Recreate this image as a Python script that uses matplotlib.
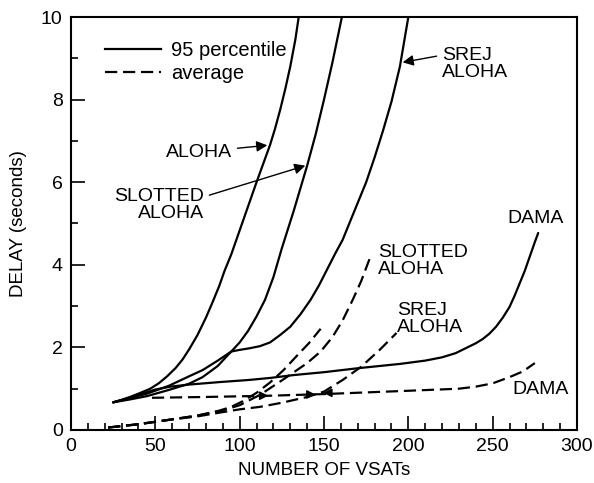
import matplotlib
matplotlib.use("Agg")
import matplotlib.pyplot as plt
from matplotlib.lines import Line2D

plt.rcParams['font.family'] = ['Liberation Sans', 'DejaVu Sans']

# ---- data ----
aloha95_x = [25, 30, 35, 40, 47, 52, 57, 62, 66, 70, 75, 80, 84, 88, 91, 95, 98, 104, 110, 114, 118, 121, 124, 127, 130, 133, 135]
aloha95_y = [0.67, 0.73, 0.8, 0.88, 1.0, 1.13, 1.3, 1.5, 1.7, 1.95, 2.3, 2.72, 3.1, 3.5, 3.85, 4.25, 4.6, 5.3, 6.0, 6.45, 6.9, 7.3, 7.75, 8.25, 8.8, 9.45, 10.0]

slotted95_x = [25, 35, 45, 58, 70, 78, 87, 95, 100, 105, 110, 115, 120, 125, 132, 140, 145, 150, 155, 160.6]
slotted95_y = [0.67, 0.74, 0.82, 0.97, 1.12, 1.28, 1.55, 1.9, 2.12, 2.4, 2.75, 3.15, 3.7, 4.4, 5.3, 6.4, 7.15, 8.0, 8.9, 10.0]

srej95_x = [25, 35, 45, 58, 70, 78, 87, 95, 100, 106, 112, 118, 124, 130, 136, 142, 147, 152, 157, 161, 165, 170, 175, 180, 185, 190, 195, 200]
srej95_y = [0.67, 0.77, 0.88, 1.07, 1.3, 1.45, 1.68, 1.9, 1.94, 1.98, 2.03, 2.12, 2.3, 2.5, 2.8, 3.15, 3.5, 3.9, 4.3, 4.6, 5.0, 5.5, 6.0, 6.6, 7.25, 7.95, 8.8, 10.0]

dama95_x = [25, 32, 40, 50, 59, 70, 88, 105, 118, 132, 150, 171, 195, 210, 220, 228, 236, 240, 244, 248, 252, 256, 260, 263, 266, 269, 272, 275, 277]
dama95_y = [0.67, 0.75, 0.85, 0.98, 1.05, 1.1, 1.16, 1.21, 1.26, 1.33, 1.4, 1.5, 1.6, 1.68, 1.76, 1.86, 2.02, 2.1, 2.2, 2.33, 2.5, 2.72, 2.98, 3.25, 3.55, 3.85, 4.2, 4.55, 4.77]

alohaavg_x = [22, 40, 57, 75, 88, 95, 102, 110, 118, 126, 134, 141, 148]
alohaavg_y = [0.06, 0.14, 0.24, 0.35, 0.47, 0.56, 0.7, 0.9, 1.15, 1.45, 1.8, 2.1, 2.45]

slottedavg_x = [22, 40, 57, 75, 88, 100, 112, 125, 140, 148, 155, 161, 167, 172, 178]
slottedavg_y = [0.06, 0.14, 0.24, 0.35, 0.45, 0.6, 0.85, 1.2, 1.62, 1.9, 2.25, 2.65, 3.15, 3.6, 4.25]

srejavg_x = [22, 40, 57, 75, 88, 100, 112, 125, 140, 150, 161, 172, 183, 193]
srejavg_y = [0.06, 0.14, 0.24, 0.33, 0.42, 0.5, 0.56, 0.66, 0.8, 0.93, 1.21, 1.53, 1.94, 2.35]

damaavg_x = [48, 80, 118, 150, 200, 230, 240, 250, 260, 268, 275]
damaavg_y = [0.78, 0.8, 0.83, 0.87, 0.95, 1.0, 1.05, 1.13, 1.28, 1.42, 1.62]

# small arrowheads seen on the average curves: (x, y, direction)
heads = [(117, 0.83, 1), (145, 0.86, 1), (149.5, 0.9, -1)]

x_ticks = [0, 50, 100, 150, 200, 250, 300]
y_ticks = [0, 2, 4, 6, 8, 10]

# ---- figure ----
W, H = 594, 483
fig = plt.figure(figsize=(W / 100, H / 100), dpi=100)
ax = fig.add_axes([71 / W, 1 - 430 / H, 506 / W, 413 / H])

lw = 1.6
dash = (5.5, 2.6)
for xs, ys in [(aloha95_x, aloha95_y), (slotted95_x, slotted95_y),
               (srej95_x, srej95_y), (dama95_x, dama95_y)]:
    ax.plot(xs, ys, color='black', lw=lw, solid_capstyle='round', solid_joinstyle='round')
for xs, ys in [(alohaavg_x, alohaavg_y), (slottedavg_x, slottedavg_y),
               (srejavg_x, srejavg_y), (damaavg_x, damaavg_y)]:
    ax.plot(xs, ys, color='black', lw=lw, linestyle=(0, dash))

for hx, hy, d in heads:
    ax.annotate('', xy=(hx, hy), xytext=(hx - d * 4, hy),
                arrowprops=dict(arrowstyle='-|>', color='black', lw=1.0,
                                mutation_scale=13, shrinkA=0, shrinkB=0))

ax.set_xlim(0, 300)
ax.set_ylim(0, 10)
ax.set_xticks(x_ticks)
ax.set_yticks(y_ticks)
ax.set_xticks(range(0, 301, 10), minor=True)
ax.set_yticks(range(1, 10, 2), minor=True)
ax.tick_params(which='both', direction='in', width=1.2, labelsize=14, pad=6, colors='black')
ax.tick_params(which='major', length=10)
ax.tick_params(which='minor', length=5)
for s in ax.spines.values():
    s.set_linewidth(1.5)

ax.set_xlabel('NUMBER OF VSATs', fontsize=13.5, labelpad=5)
ax.set_ylabel('DELAY (seconds)', fontsize=13.5, labelpad=10)

# legend
handles = [Line2D([], [], color='black', lw=lw),
           Line2D([], [], color='black', lw=lw, linestyle=(0, dash))]
ax.legend(handles, ['95 percentile', 'average'], loc='upper left',
          bbox_to_anchor=(0.031, 0.985), frameon=False, fontsize=14.5,
          handlelength=2.8, handletextpad=0.5, labelspacing=0.2)

fs = 14
arrow = dict(arrowstyle='-|>', color='black', lw=1.0, mutation_scale=16)
ax.annotate('ALOHA', xy=(118, 6.9), xytext=(95.4, 6.73), ha='right', va='center',
            fontsize=fs, arrowprops=arrow)
ax.annotate('SLOTTED\nALOHA', xy=(140.5, 6.42), xytext=(78.8, 5.44), ha='right',
            va='center', fontsize=fs, linespacing=1.0, multialignment='right',
            arrowprops=dict(arrow, relpos=(1.0, 0.75)))
ax.annotate('SREJ\nALOHA', xy=(195, 8.89), xytext=(220, 8.87), ha='left', va='center',
            fontsize=fs, linespacing=1.0, arrowprops=dict(arrow, relpos=(0.0, 0.75)))
ax.text(259, 5.13, 'DAMA', ha='left', va='center', fontsize=fs)
ax.text(182, 4.08, 'SLOTTED\nALOHA', ha='left', va='center', fontsize=fs, linespacing=1.0)
ax.text(193.2, 2.69, 'SREJ\nALOHA', ha='left', va='center', fontsize=fs, linespacing=1.0)
ax.text(261.4, 0.97, 'DAMA', ha='left', va='center', fontsize=fs)

fig.savefig('out.png', dpi=100)
